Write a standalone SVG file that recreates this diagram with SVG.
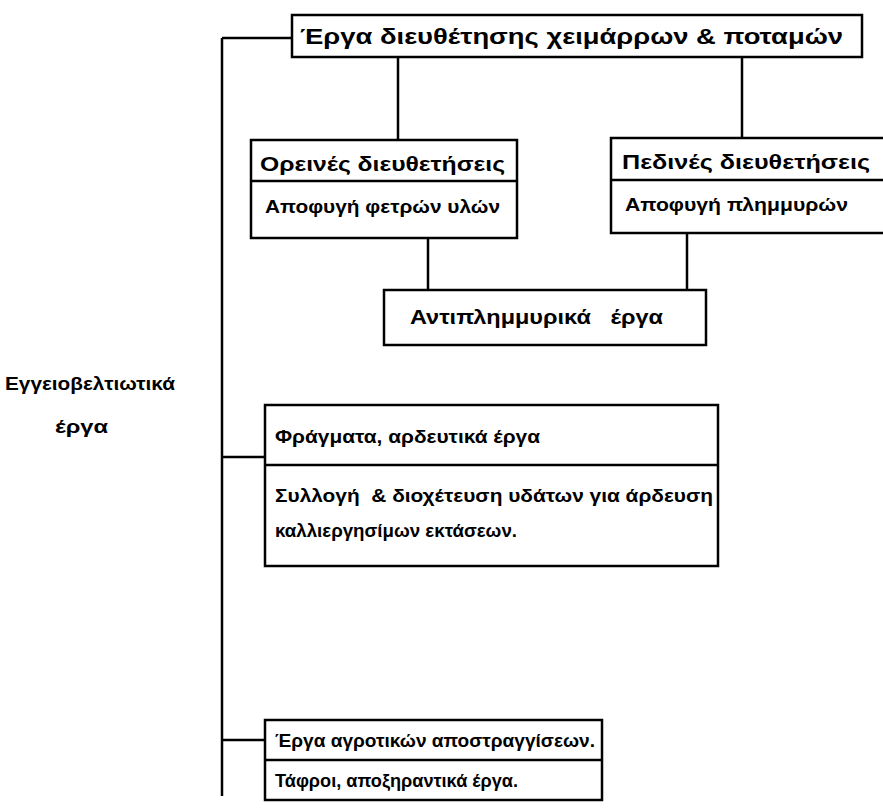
<svg xmlns="http://www.w3.org/2000/svg" width="883" height="811" viewBox="0 0 883 811">
<style>
.box{fill:#fff;stroke:#000;stroke-width:2.5}
.ln{stroke:#000;stroke-width:2.5;fill:none}
.t{font-family:"Liberation Sans",Arial,sans-serif;font-weight:bold;fill:#000;white-space:pre}
.big{font-size:22px}
.up{font-size:20px}
.mid{font-size:19px}
</style>
<rect width="883" height="811" fill="#fff"/>
<g id="connectors">
<path class="ln" d="M222,38 V796"/>
<path class="ln" d="M222,38 H292"/>
<path class="ln" d="M398,57 V140"/>
<path class="ln" d="M742,57 V138"/>
<path class="ln" d="M428,238 V290"/>
<path class="ln" d="M687,233 V290"/>
<path class="ln" d="M222,457 H265"/>
<path class="ln" d="M222,740 H265"/>
</g>
<g id="top">
<rect class="box" x="292" y="15" width="570" height="42"/>
<text class="t big" x="300" y="44" textLength="543" lengthAdjust="spacingAndGlyphs">Έργα διευθέτησης χειμάρρων &amp; ποταμών</text>
</g>
<g id="oreines">
<rect class="box" x="251" y="140" width="266" height="98"/>
<path class="ln" d="M251,181 H517"/>
<text class="t up" x="260" y="171" textLength="245" lengthAdjust="spacingAndGlyphs">Ορεινές διευθετήσεις</text>
<text class="t mid" x="265" y="213" textLength="235" lengthAdjust="spacingAndGlyphs">Αποφυγή φετρών υλών</text>
</g>
<g id="pedines">
<rect class="box" x="611" y="138" width="290" height="95"/>
<path class="ln" d="M611,180 H883"/>
<text class="t up" x="622" y="169" textLength="248" lengthAdjust="spacingAndGlyphs">Πεδινές διευθετήσεις</text>
<text class="t mid" x="625" y="211" textLength="223" lengthAdjust="spacingAndGlyphs">Αποφυγή πλημμυρών</text>
</g>
<g id="antiplimmyrika">
<rect class="box" x="384" y="290" width="322" height="55"/>
<text class="t up" x="410" y="324" textLength="253" lengthAdjust="spacingAndGlyphs">Αντιπλημμυρικά   έργα</text>
</g>
<g id="label">
<text class="t mid" x="5" y="390" textLength="170" lengthAdjust="spacingAndGlyphs">Εγγειοβελτιωτικά</text>
<text class="t mid" x="55" y="433" textLength="53" lengthAdjust="spacingAndGlyphs">έργα</text>
</g>
<g id="fragmata">
<rect class="box" x="265" y="405" width="453" height="161"/>
<path class="ln" d="M265,465 H718"/>
<text class="t mid" x="275" y="443" textLength="265" lengthAdjust="spacingAndGlyphs">Φράγματα, αρδευτικά έργα</text>
<text class="t mid" x="275" y="502" textLength="438" lengthAdjust="spacingAndGlyphs">Συλλογή  &amp; διοχέτευση υδάτων για άρδευση</text>
<text class="t mid" x="275" y="537" textLength="242" lengthAdjust="spacingAndGlyphs">καλλιεργησίμων εκτάσεων.</text>
</g>
<g id="agrotika">
<rect class="box" x="265" y="720" width="337" height="80"/>
<path class="ln" d="M265,760 H602"/>
<text class="t mid" x="275" y="747" textLength="320" lengthAdjust="spacingAndGlyphs">Έργα αγροτικών αποστραγγίσεων.</text>
<text class="t mid" x="275" y="787" textLength="243" lengthAdjust="spacingAndGlyphs">Τάφροι, αποξηραντικά έργα.</text>
</g>
</svg>
